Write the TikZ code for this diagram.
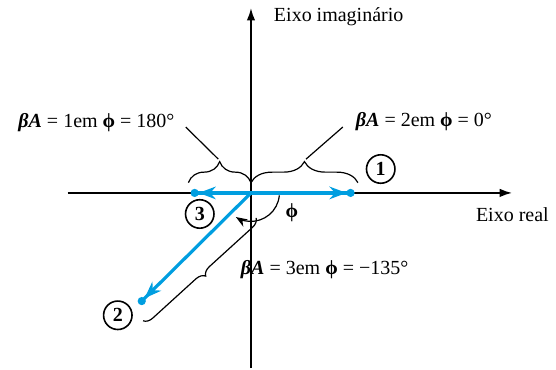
\documentclass[tikz,border=0pt]{standalone}
\usepackage{fontspec}
\setmainfont{Liberation Serif}
\usetikzlibrary{arrows.meta, decorations.pathreplacing, positioning}

\definecolor{vecblue}{RGB}{0,158,224}

\begin{document}
\begin{tikzpicture}[
    axis/.style={line width=0.9pt, -{Latex[length=2.2mm, width=1.5mm]}},
    vector/.style={line width=1.6pt, vecblue, -{Stealth[length=3mm, width=2.2mm] Circle[length=1.4mm, sep=1mm]}},
    num/.style={circle, draw, line width=0.8pt, minimum size=0.5cm, inner sep=0pt, font=\bfseries},
    curly/.style={decorate, decoration={brace, amplitude=#1}, line width=0.6pt},
    leader/.style={line width=0.6pt},
    formula/.style={font=\normalsize}
]
\useasboundingbox (-4.41,-3.11) rectangle (5.36,3.39);

\coordinate (o) at (0,0);
\coordinate (xl) at (-3.22,0);
\coordinate (xr) at (4.59,0);
\coordinate (yb) at (0,-3.08);
\coordinate (yt) at (0,3.25);
\coordinate (p1) at (1.92,0);
\coordinate (p3) at (-1.16,0);
\coordinate (p2) at (-2.04,-2.02);

% axes
\draw[axis] (xl) -- (xr);
\draw[axis] (yb) -- (yt);
\node[anchor=west] (imag) at (0.28,3.09) {Eixo imaginário};
\node[anchor=west] (real) at (3.83,-0.39) {Eixo real};

% phasors
\draw[vector] (o) -- (p1);
\draw[vector] (o) -- (p3);
\draw[vector] (o) -- (p2);
\node[num] (n1) at (2.28,0.42) {1};
\node[num] (n3) at (-0.90,-0.37) {3};
\node[num] (n2) at (-2.34,-2.15) {2};

% braces
\coordinate (b1s) at (0,0.18);
\coordinate (b1e) at (1.88,0.18);
\coordinate (b3s) at (-1.10,0.18);
\coordinate (b2s) at (0.09,-0.44);
\coordinate (b2e) at (-1.90,-2.25);
\coordinate (t1) at (0.94,0.57);
\coordinate (t3) at (-0.55,0.57);
\draw[curly=0.37cm] (b1s) -- (b1e);
\draw[curly=0.37cm] (b3s) -- (b1s);
\draw[curly=0.16cm] (b2s) -- (b2e);

\node[formula, anchor=west] (lab0) at (1.72,1.25)
    {{\bfseries\itshape βA} = 2em {\bfseries ϕ} = 0°};
\node[formula, anchor=east] (lab180) at (-1.22,1.23)
    {{\bfseries\itshape βA} = 1em {\bfseries ϕ} = 180°};
\node[formula, anchor=west] (lab135) at (-0.30,-1.35)
    {{\bfseries\itshape βA} = 3em {\bfseries ϕ} = −135°};
\draw[leader, shorten >=4pt, shorten <=1pt] (t1) -- (lab0.west);
\draw[leader, shorten <=3pt, shorten >=1pt] (lab180.east) -- (t3);

% angle
\coordinate (a0) at (-5:0.5);
\draw[leader, -{Stealth[length=2mm]}] (a0) arc[start angle=-5, end angle=-122, radius=0.5];
\node (phi) at (0.72,-0.35) {\bfseries ϕ};
\end{tikzpicture}
\end{document}
